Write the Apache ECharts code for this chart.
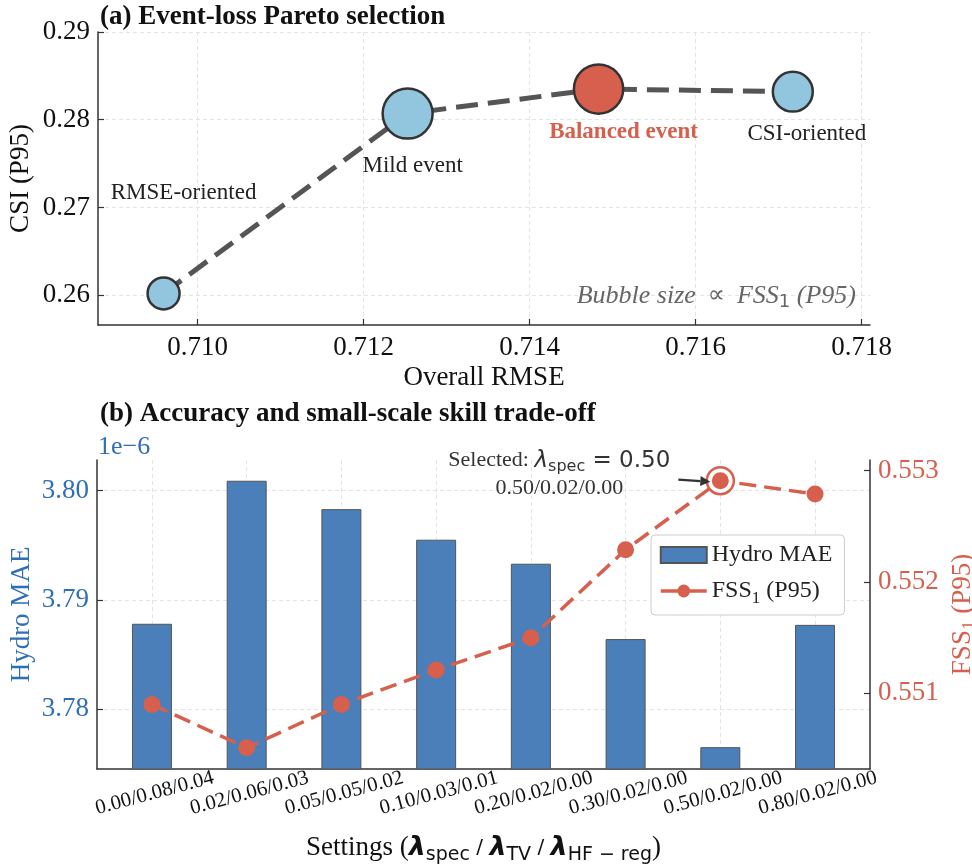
<!DOCTYPE html>
<html><head><meta charset="utf-8">
<script src="https://cdn.jsdelivr.net/npm/echarts@6/dist/echarts.min.js"></script>
<style>html,body{margin:0;padding:0;background:#fff}#main{width:972px;height:867px}</style>
</head><body><div id="main"></div>
<script>
// Panel (a): event-loss configurations on the RMSE / CSI plane
const paretoNames = ['RMSE-oriented', 'Mild event', 'Balanced event', 'CSI-oriented'];
const paretoRmse = [0.70959, 0.71253, 0.71483, 0.71717];
const paretoCsi = [0.2602, 0.2807, 0.2835, 0.2832];
const paretoFss = [0.5505, 0.5530, 0.5529, 0.5516];
const rmseTicks = [0.710, 0.712, 0.714, 0.716, 0.718];
const csiTicks = [0.26, 0.27, 0.28, 0.29];
const balancedIndex = 2;

// Panel (b): loss-weight sweep (lambda_spec / lambda_TV / lambda_HF-reg)
const settings = ['0.00/0.08/0.04', '0.02/0.06/0.03', '0.05/0.05/0.02', '0.10/0.03/0.01',
                  '0.20/0.02/0.00', '0.30/0.02/0.00', '0.50/0.02/0.00', '0.80/0.02/0.00'];
const hydroMae = [3.7878, 3.8009, 3.7983, 3.7955, 3.7933, 3.7864, 3.7765, 3.7877]; // units of 1e-6
const fss1 = [0.55090, 0.55051, 0.55090, 0.55121, 0.55150, 0.55229, 0.55291, 0.55279];
const maeTicks = [3.78, 3.79, 3.80];
const fssTicks = [0.551, 0.552, 0.553];
const selectedIndex = 6;

const SERIF = 'Liberation Serif';
const MATH = 'DejaVu Sans';
const BLUE = '#4a7fb9';
const BLUE_TXT = '#2f6fb5';
const RED = '#d6604d';
const LIGHT = '#92c5de';
const TICK_FS = 27;

const chart = echarts.init(document.getElementById('main'), null, { renderer: 'canvas' });

// bubble diameter grows with FSS1
const fMin = Math.min(...paretoFss), fMax = Math.max(...paretoFss);
const bubbleSize = f => 32 + (f - fMin) / (fMax - fMin) * 18;

const labelOffsets = [[20, -100], [5, 52], [25, 43], [14, 42]];

const paretoData = paretoRmse.map((x, i) => ({
  value: [x, paretoCsi[i]],
  symbolSize: bubbleSize(paretoFss[i]),
  itemStyle: { color: i === balancedIndex ? RED : LIGHT, borderColor: '#333', borderWidth: 2.5 },
  label: {
    show: true, position: 'inside', offset: labelOffsets[i],
    formatter: paretoNames[i], fontFamily: SERIF, fontSize: 23,
    color: i === balancedIndex ? RED : '#222',
    fontWeight: i === balancedIndex ? 'bold' : 'normal'
  }
}));

const axisLineStyle = { color: '#333', width: 1.5 };
const gridLine = { show: true, lineStyle: { color: '#ddd', width: 0.8, type: [4, 3] } };
const tickStyle = (vals) => ({ show: true, inside: true, length: 6, lineStyle: { color: '#333', width: 1.2 }, customValues: vals });

const subRich = (size, color, family) => ({
  a: { fontFamily: family || SERIF, fontSize: size, color: color, lineHeight: 32 },
  s: { fontFamily: family || SERIF, fontSize: Math.round(size * 0.7), color: color, lineHeight: 14, verticalAlign: 'bottom' }
});

const option = {
  backgroundColor: '#fff',
  animation: false,
  title: [
    { text: '(a) Event-loss Pareto selection', left: 95, top: -1,
      textStyle: { fontFamily: SERIF, fontSize: 27, fontWeight: 'bold', color: '#111' } },
    { text: '(b) Accuracy and small-scale skill trade-off', left: 95, top: 396,
      textStyle: { fontFamily: SERIF, fontSize: 27, fontWeight: 'bold', color: '#111' } }
  ],
  grid: [
    { left: 98, top: 32, width: 772, height: 293, outerBoundsMode: 'none', containLabel: false },
    { left: 97, top: 460, width: 773, height: 309, outerBoundsMode: 'none', containLabel: false }
  ],
  legend: {
    data: [{ name: 'Hydro MAE', icon: 'rect' }, { name: 'FSS1 (P95)' }],
    orient: 'vertical', left: 651, top: 535,
    itemWidth: 46, itemHeight: 16, itemGap: 12,
    padding: [8, 12, 8, 8],
    lineStyle: { type: 'solid', width: 3.5 },
    backgroundColor: 'rgba(255,255,255,0.9)', borderColor: '#ccc', borderWidth: 1, borderRadius: 4,
    formatter: name => name === 'Hydro MAE' ? '{a|Hydro MAE}' : '{a|FSS}{s|1}{a| (P95)}',
    textStyle: { fontFamily: SERIF, fontSize: 24, color: '#222', rich: subRich(24, '#222') }
  },
  xAxis: [
    { gridIndex: 0, type: 'value', min: 0.7088, max: 0.7181,
      name: 'Overall RMSE', nameLocation: 'middle', nameGap: 39,
      nameTextStyle: { fontFamily: SERIF, fontSize: 27, color: '#111' },
      axisLine: { show: true, onZero: false, lineStyle: axisLineStyle },
      axisTick: tickStyle(rmseTicks),
      axisLabel: { customValues: rmseTicks, formatter: v => v.toFixed(3), fontFamily: SERIF, fontSize: TICK_FS, color: '#111', margin: 9 },
      splitLine: gridLine },
    { gridIndex: 1, type: 'value', min: -0.58, max: 7.58,
      name: '{a|Settings (}{l|λ}{s|spec}{m| / }{l|λ}{s|TV}{m| / }{l|λ}{s|HF − reg}{a|)}',
      nameLocation: 'middle', nameGap: 62,
      nameTextStyle: { rich: {
        a: { fontFamily: SERIF, fontSize: 27, color: '#111', lineHeight: 34 },
        m: { fontFamily: MATH, fontSize: 20, color: '#111', lineHeight: 34 },
        l: { fontFamily: MATH, fontSize: 27, fontWeight: 'bold', fontStyle: 'italic', color: '#111', lineHeight: 34 },
        s: { fontFamily: MATH, fontSize: 19, color: '#111', lineHeight: 18, verticalAlign: 'bottom' }
      } },
      axisLine: { show: true, onZero: false, lineStyle: axisLineStyle },
      axisTick: tickStyle(settings.map((_, i) => i)),
      axisLabel: { customValues: settings.map((_, i) => i), formatter: v => settings[Math.round(v)],
        rotate: 15, align: 'center', verticalAlign: 'top', margin: 14,
        fontFamily: SERIF, fontSize: 21, color: '#111' },
      splitLine: gridLine }
  ],
  yAxis: [
    { gridIndex: 0, type: 'value', min: 0.2566, max: 0.29,
      name: 'CSI (P95)', nameLocation: 'middle', nameRotate: 90, nameGap: 64, nameMoveOverlap: false,
      nameTextStyle: { fontFamily: SERIF, fontSize: 27, color: '#111' },
      axisLine: { show: true, onZero: false, lineStyle: axisLineStyle },
      axisTick: tickStyle(csiTicks),
      axisLabel: { customValues: csiTicks, formatter: v => v.toFixed(2), fontFamily: SERIF, fontSize: TICK_FS, color: '#111', margin: 8 },
      splitLine: gridLine },
    { gridIndex: 1, type: 'value', min: 3.7745, max: 3.8028, position: 'left',
      name: 'Hydro MAE', nameLocation: 'middle', nameRotate: 90, nameGap: 62, nameMoveOverlap: false,
      nameTextStyle: { fontFamily: SERIF, fontSize: 27, color: BLUE_TXT },
      axisLine: { show: true, onZero: false, lineStyle: axisLineStyle },
      axisTick: tickStyle(maeTicks),
      axisLabel: { customValues: maeTicks, formatter: v => v.toFixed(2), fontFamily: SERIF, fontSize: TICK_FS, color: BLUE_TXT, margin: 8 },
      splitLine: gridLine },
    { gridIndex: 1, type: 'value', min: 0.55032, max: 0.553096, position: 'right',
      name: '{a|FSS}{s|1}{a| (P95)}', nameLocation: 'middle', nameRotate: 90, nameGap: 72,
      nameTextStyle: { rich: subRich(27, RED) },
      axisLine: { show: true, onZero: false, lineStyle: axisLineStyle },
      axisTick: tickStyle(fssTicks),
      axisLabel: { customValues: fssTicks, formatter: v => v.toFixed(3), fontFamily: SERIF, fontSize: TICK_FS, color: RED, margin: 8 },
      splitLine: { show: false } }
  ],
  series: [
    { type: 'line', xAxisIndex: 0, yAxisIndex: 0, data: paretoData,
      symbol: 'circle', lineStyle: { color: '#555', width: 5, type: [22, 10], cap: 'butt' },
      z: 3 },
    { name: 'Hydro MAE', type: 'bar', xAxisIndex: 1, yAxisIndex: 1,
      data: hydroMae.map((v, i) => [i, v]), barWidth: 40, clip: true,
      itemStyle: { color: BLUE, borderColor: '#555', borderWidth: 1 }, z: 2 },
    { name: 'FSS1 (P95)', type: 'line', xAxisIndex: 1, yAxisIndex: 2,
      data: fss1.map((v, i) => [i, v]), symbol: 'circle', symbolSize: 17,
      itemStyle: { color: RED }, lineStyle: { color: RED, width: 3.5, type: [17, 8], cap: 'butt' }, z: 4 },
    { type: 'scatter', xAxisIndex: 1, yAxisIndex: 2,
      data: [[selectedIndex, fss1[selectedIndex]]], symbolSize: 27,
      itemStyle: { color: '#fff', borderColor: RED, borderWidth: 2.5, opacity: 1 }, z: 5 },
    { type: 'scatter', xAxisIndex: 1, yAxisIndex: 2,
      data: [[selectedIndex, fss1[selectedIndex]]], symbolSize: 17,
      itemStyle: { color: RED, opacity: 1 }, z: 6 }
  ]
};

chart.setOption(option);

// annotations placed relative to the selected setting
const sel = chart.convertToPixel({ xAxisIndex: 1, yAxisIndex: 2 }, [selectedIndex, fss1[selectedIndex]]);
const px = sel[0], py = sel[1];
const tail = [px - 42, py - 1], tip = [px - 10, py + 1];
const ang = Math.atan2(tip[1] - tail[1], tip[0] - tail[0]);
const ah = 10, aw = 5;
const base = [tip[0] - ah * Math.cos(ang), tip[1] - ah * Math.sin(ang)];
const nx = -Math.sin(ang), ny = Math.cos(ang);

chart.setOption({
  graphic: [
    { type: 'text', left: 98, top: 434, silent: true,
      style: { text: '1e−6', fontFamily: SERIF, fontSize: 26, fill: BLUE_TXT } },
    { type: 'text', x: 856, y: 296, silent: true,
      style: { text: '{i|Bubble size}{m|∝}{i|FSS}{s|1}{i| (P95)}', align: 'right', verticalAlign: 'middle',
        rich: {
          i: { fontFamily: SERIF, fontStyle: 'italic', fontSize: 26, fill: '#666', lineHeight: 30 },
          m: { fontFamily: MATH, fontSize: 24, fill: '#666', lineHeight: 30, padding: [0, 12, 0, 12] },
          s: { fontFamily: MATH, fontSize: 18, fill: '#666', lineHeight: 16, verticalAlign: 'bottom' }
        } } },
    { type: 'line', silent: true, z: 10,
      shape: { x1: tail[0], y1: tail[1], x2: base[0], y2: base[1] },
      style: { stroke: '#333', lineWidth: 2.2 } },
    { type: 'polygon', silent: true, z: 10,
      shape: { points: [tip, [base[0] + nx * aw, base[1] + ny * aw], [base[0] - nx * aw, base[1] - ny * aw]] },
      style: { fill: '#333' } },
    { type: 'text', x: px - 161, y: py - 20, silent: true, z: 10,
      style: { text: '{a|Selected: }{l|λ}{s|spec}{m| = 0.50}', align: 'center', verticalAlign: 'middle',
        rich: {
          a: { fontFamily: SERIF, fontSize: 22, fill: '#333', lineHeight: 28 },
          l: { fontFamily: MATH, fontSize: 23, fontStyle: 'italic', fill: '#333', lineHeight: 28 },
          s: { fontFamily: MATH, fontSize: 16, fill: '#333', lineHeight: 14, verticalAlign: 'bottom' },
          m: { fontFamily: MATH, fontSize: 23, fill: '#333', lineHeight: 28 }
        } } },
    { type: 'text', x: px - 161, y: py + 8, silent: true, z: 10,
      style: { text: '0.50/0.02/0.00', align: 'center', verticalAlign: 'middle',
        fontFamily: SERIF, fontSize: 22, fill: '#333' } }
  ]
});
</script>
</body></html>
